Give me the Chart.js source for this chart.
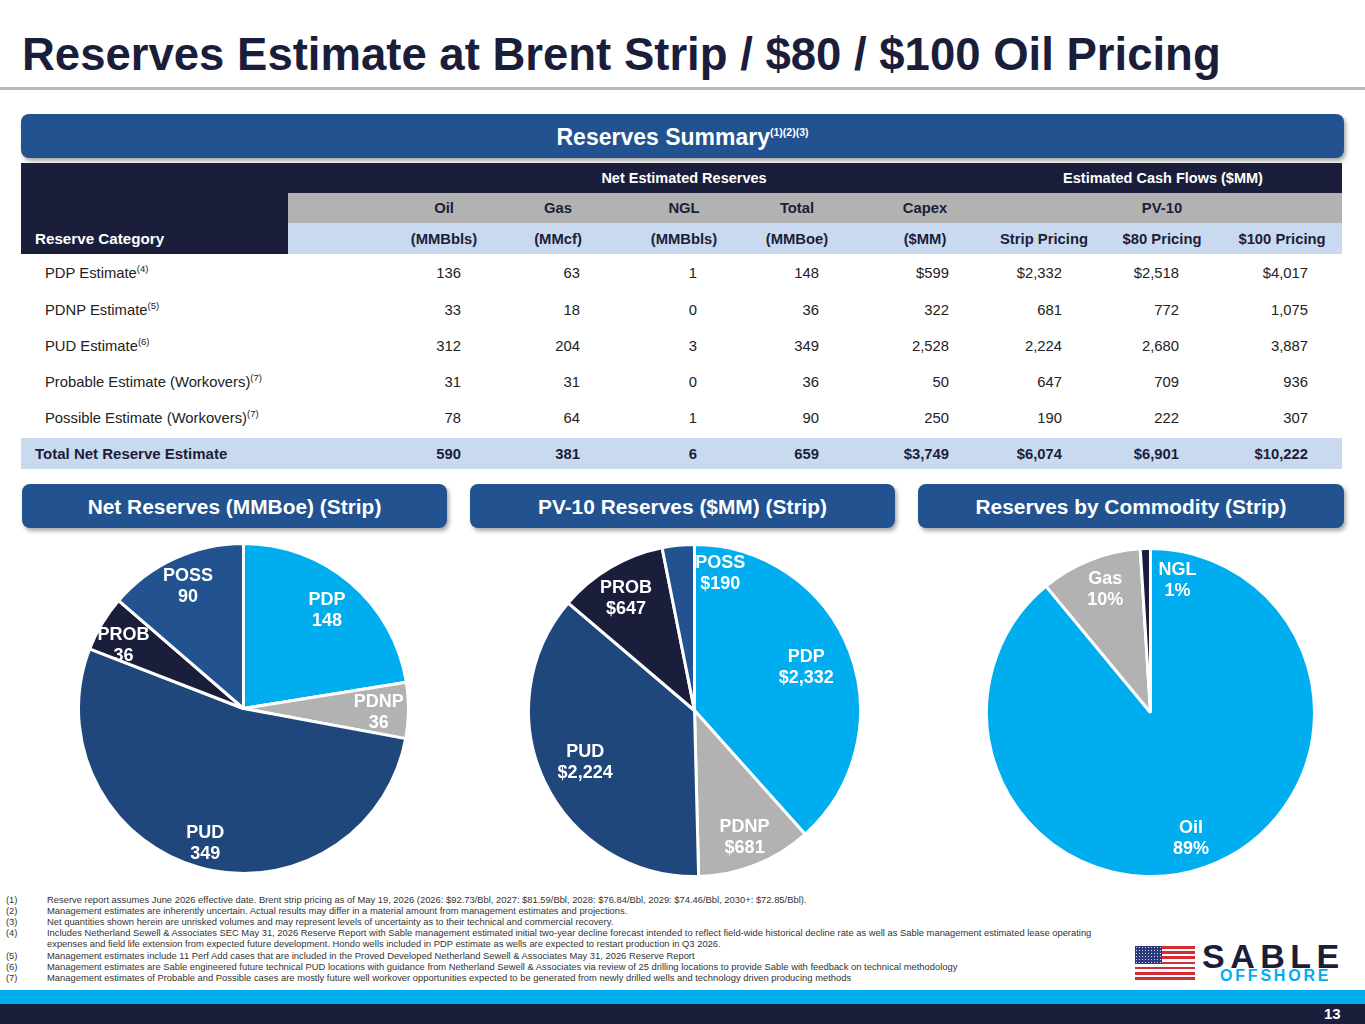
<!DOCTYPE html>
<html>
<head>
<meta charset="utf-8">
<script src="https://cdn.jsdelivr.net/npm/chart.js@4.4.0/dist/chart.umd.min.js"></script>
<style>
  html,body{margin:0;padding:0;background:#fff;}
  body{width:1365px;height:1024px;position:relative;overflow:hidden;font-family:"Liberation Sans",Arial,sans-serif;}
  .abs{position:absolute;}
  #title{left:22px;top:30px;font-size:45.5px;line-height:50px;font-weight:bold;color:#1b1e3b;white-space:nowrap;}
  #rule{left:0;top:87px;width:1365px;height:3px;background:#b9b9b9;}
  .banner{background:#22528f;border-radius:8px;color:#fff;font-weight:bold;text-align:center;box-shadow:2px 3px 4px rgba(0,0,0,0.35);}
  .banner sup{font-size:10.5px;vertical-align:9px;line-height:0;}
  .cell{position:absolute;white-space:nowrap;font-size:14.8px;line-height:18px;}
  .foot{position:absolute;left:0;font-size:9.4px;line-height:11px;color:#333;white-space:nowrap;}
  .foot span.n{position:absolute;left:6px;}
  .foot span.t{position:absolute;left:47px;}
  canvas{position:absolute;}
</style>
</head>
<body>
<div id="title" class="abs">Reserves Estimate at Brent Strip / $80 / $100 Oil Pricing</div>
<div id="rule" class="abs"></div>

<div class="abs banner" style="left:21px;top:114px;width:1323px;height:44px;line-height:46px;font-size:23px;">Reserves Summary<sup>(1)(2)(3)</sup></div>

<div id="table"></div>

<div class="abs banner" style="left:22px;top:484px;width:425px;height:44px;line-height:46px;font-size:20.9px;">Net Reserves (MMBoe) (Strip)</div>
<div class="abs banner" style="left:470px;top:484px;width:425px;height:44px;line-height:46px;font-size:20.9px;">PV-10 Reserves ($MM) (Strip)</div>
<div class="abs banner" style="left:918px;top:484px;width:426px;height:44px;line-height:46px;font-size:20.9px;">Reserves by Commodity (Strip)</div>

<canvas id="pie1" width="333" height="333" style="left:77px;top:542px;width:333px;height:333px;"></canvas>
<canvas id="pie2" width="335" height="335" style="left:527px;top:543px;width:335px;height:335px;"></canvas>
<canvas id="pie3" width="331" height="331" style="left:985px;top:547px;width:331px;height:331px;"></canvas>

<div id="footnotes"></div>

<!-- logo -->
<div class="abs" style="left:1135px;top:946px;width:60px;height:34px;background:repeating-linear-gradient(to bottom,#d52b32 0,#d52b32 2.6px,#fff 2.6px,#fff 5.2px);"></div>
<div class="abs" style="left:1135px;top:946px;width:27px;height:18px;background:#2a3a7a;background-image:radial-gradient(#cfd6ee 0.7px,transparent 0.9px);background-size:3px 3px;"></div>
<div class="abs" style="left:1202px;top:939px;font-size:34px;line-height:34px;font-weight:900;color:#1b1e3b;letter-spacing:5.5px;">SABLE</div>
<div class="abs" style="left:1220px;top:968px;font-size:16px;line-height:16px;font-weight:bold;color:#00aeef;letter-spacing:2.8px;">OFFSHORE</div>

<div class="abs" style="left:0;top:990px;width:1365px;height:14px;background:#00aeef;"></div>
<div class="abs" style="left:0;top:1004px;width:1365px;height:20px;background:#1b1e3b;"></div>
<div class="abs" style="left:1324px;top:1005px;font-size:15px;line-height:18px;font-weight:bold;color:#fff;">13</div>

<script>
// ---------------- data ----------------
const categories = ['PDP', 'PDNP', 'PUD', 'PROB', 'POSS'];
const netReservesMMBoe = [148, 36, 349, 36, 90];
const pv10StripMM = [2332, 681, 2224, 647, 190];
const commodities = ['Oil', 'Gas', 'NGL'];
const commoditySharePct = [89, 10, 1];

const tableRowLabels = ['PDP Estimate', 'PDNP Estimate', 'PUD Estimate', 'Probable Estimate (Workovers)', 'Possible Estimate (Workovers)'];
const tableRowNotes = ['(4)', '(5)', '(6)', '(7)', '(7)'];
const oilMMBbls = [136, 33, 312, 31, 78];
const gasMMcf = [63, 18, 204, 31, 64];
const nglMMBbls = [1, 0, 3, 0, 1];
const totalMMBoe = [148, 36, 349, 36, 90];
const capexMM = [599, 322, 2528, 50, 250];
const pv10Strip = [2332, 681, 2224, 647, 190];
const pv10At80 = [2518, 772, 2680, 709, 222];
const pv10At100 = [4017, 1075, 3887, 936, 307];
const tableTotals = [590, 381, 6, 659, 3749, 6074, 6901, 10222];
const totalLabel = 'Total Net Reserve Estimate';
const groupHeads = ['Net Estimated Reserves', 'Estimated Cash Flows ($MM)'];
const colHeads = ['Oil', 'Gas', 'NGL', 'Total', 'Capex'];
const pvHead = 'PV-10';
const colUnits = ['(MMBbls)', '(MMcf)', '(MMBbls)', '(MMBoe)', '($MM)', 'Strip Pricing', '$80 Pricing', '$100 Pricing'];
const dollarCols = [false, false, false, false, true, true, true, true];

const footnotes = [
  ['(1)', 'Reserve report assumes June 2026 effective date. Brent strip pricing as of May 19, 2026 (2026: $92.73/Bbl, 2027: $81.59/Bbl, 2028: $76.84/Bbl, 2029: $74.46/Bbl, 2030+: $72.85/Bbl).'],
  ['(2)', 'Management estimates are inherently uncertain. Actual results may differ in a material amount from management estimates and projections.'],
  ['(3)', 'Net quantities shown herein are unrisked volumes and may represent levels of uncertainty as to their technical and commercial recovery.'],
  ['(4)', 'Includes Netherland Sewell & Associates SEC May 31, 2026 Reserve Report with Sable management estimated initial two-year decline forecast intended to reflect field-wide historical decline rate as well as Sable management estimated lease operating'],
  ['', 'expenses and field life extension from expected future development. Hondo wells included in PDP estimate as wells are expected to restart production in Q3 2026.'],
  ['(5)', 'Management estimates include 11 Perf Add cases that are included in the Proved Developed Netherland Sewell & Associates May 31, 2026 Reserve Report'],
  ['(6)', 'Management estimates are Sable engineered future technical PUD locations with guidance from Netherland Sewell & Associates via review of 25 drilling locations to provide Sable with feedback on technical methodology'],
  ['(7)', 'Management estimates of Probable and Possible cases are mostly future well workover opportunities expected to be generated from newly drilled wells and technology driven producing methods']
];

// ---------------- table layout ----------------
const NAVY = '#1b1e3b', LIGHT = '#c9daf0', GRAY = '#b2b2b2', TXT = '#222';
const colCenters = [444, 558, 684, 797, 925, 1044, 1162, 1282];
const colRights = [461, 580, 697, 819, 949, 1062, 1179, 1308];
const tbl = document.getElementById('table');
function box(l, t, w, h, bg) {
  const d = document.createElement('div');
  d.className = 'abs';
  d.style.cssText = `left:${l}px;top:${t}px;width:${w}px;height:${h}px;background:${bg};`;
  tbl.appendChild(d);
}
function txt(s, x, yc, align, opts) {
  const d = document.createElement('div');
  d.className = 'cell';
  d.innerHTML = s;
  let css = `top:${yc - 9}px;color:${opts.color || TXT};font-weight:${opts.bold ? 'bold' : 'normal'};`;
  if (opts.size) css += `font-size:${opts.size}px;`;
  if (align === 'center') css += `left:${x - 200}px;width:400px;text-align:center;`;
  else if (align === 'right') css += `left:${x - 400}px;width:400px;text-align:right;`;
  else css += `left:${x}px;`;
  d.style.cssText = css;
  tbl.appendChild(d);
}
box(21, 163, 1321, 30, NAVY);
box(21, 193, 267, 61, NAVY);
box(288, 193, 1054, 30, GRAY);
box(288, 223, 1054, 31, LIGHT);
box(21, 438, 1321, 31, LIGHT);

txt(groupHeads[0], 684, 178, 'center', {bold: true, color: '#fff', size: 14.5});
txt(groupHeads[1], 1163, 178, 'center', {bold: true, color: '#fff', size: 14.5});
colHeads.forEach((h, i) => txt(h, colCenters[i], 208, 'center', {bold: true, color: NAVY, size: 14.8}));
txt(pvHead, colCenters[6], 208, 'center', {bold: true, color: NAVY, size: 14.8});
colUnits.forEach((h, i) => txt(h, colCenters[i], 239, 'center', {bold: true, color: NAVY, size: 14.8}));
txt('Reserve Category', 35, 239, 'left', {bold: true, color: '#fff', size: 15.2});

const fmt = (v, dollar) => (dollar ? '$' : '') + v.toLocaleString('en-US');
const rowCentersY = [273, 310, 346, 382, 418];
const cols = [oilMMBbls, gasMMcf, nglMMBbls, totalMMBoe, capexMM, pv10Strip, pv10At80, pv10At100];
tableRowLabels.forEach((lab, r) => {
  txt(lab + '<sup style="font-size:9.5px;vertical-align:6px;line-height:0;">' + tableRowNotes[r] + '</sup>', 45, rowCentersY[r], 'left', {});
  cols.forEach((c, ci) => txt(fmt(c[r], r === 0 && dollarCols[ci]), colRights[ci], rowCentersY[r], 'right', {}));
});
txt(totalLabel, 35, 454, 'left', {bold: true, color: NAVY, size: 15});
tableTotals.forEach((v, ci) => txt(fmt(v, dollarCols[ci]), colRights[ci], 454, 'right', {bold: true, color: NAVY}));

// ---------------- footnotes ----------------
const fn = document.getElementById('footnotes');
footnotes.forEach((f, i) => {
  const d = document.createElement('div');
  d.className = 'foot';
  d.style.top = (894 + i * 11.1) + 'px';
  d.innerHTML = `<span class="n">${f[0]}</span><span class="t">${f[1].replace(/&/g, '&amp;')}</span>`;
  fn.appendChild(d);
});

// ---------------- pies ----------------
const sliceLabels = {
  id: 'sliceLabels',
  afterDatasetsDraw(chart, args, opts) {
    const ctx = chart.ctx;
    const meta = chart.getDatasetMeta(0);
    const ds = chart.data.datasets[0];
    meta.data.forEach((arc, i) => {
      const p = arc.getProps(['startAngle', 'endAngle', 'outerRadius', 'x', 'y'], true);
      const a = (p.startAngle + p.endAngle) / 2 + (opts.shift[i] || 0) * Math.PI / 180;
      const r = p.outerRadius * opts.radius[i];
      const cx = p.x + Math.cos(a) * r, cy = p.y + Math.sin(a) * r;
      ctx.save();
      ctx.font = 'bold 18px "Liberation Sans", Arial, sans-serif';
      ctx.fillStyle = '#ffffff';
      ctx.textAlign = 'center';
      ctx.textBaseline = 'middle';
      ctx.fillText(chart.data.labels[i], cx, cy - 10.5);
      ctx.fillText(opts.format(ds.data[i]), cx, cy + 10.5);
      ctx.restore();
    });
  }
};

function makePie(id, labels, data, colors, labelOpts) {
  return new Chart(document.getElementById(id), {
    type: 'pie',
    data: {labels: labels, datasets: [{data: data, backgroundColor: colors, borderColor: '#ffffff', borderWidth: 3}]},
    options: {
      responsive: false, animation: false, devicePixelRatio: 1,
      layout: {padding: 0},
      plugins: {legend: {display: false}, tooltip: {enabled: false}, sliceLabels: labelOpts}
    },
    plugins: [sliceLabels]
  });
}
const C_PDP = '#00aeef', C_PDNP = '#b2b2b2', C_PUD = '#1f477b', C_PROB = '#1b1e3b', C_POSS = '#22528f';
makePie('pie1', categories, netReservesMMBoe, [C_PDP, C_PDNP, C_PUD, C_PROB, C_POSS],
  {radius: [0.78, 0.82, 0.85, 0.82, 0.81], shift: [0, 1, 0, -3.5, 0], format: v => String(v)});
makePie('pie2', categories, pv10StripMM, [C_PDP, C_PDNP, C_PUD, C_PROB, C_POSS],
  {radius: [0.72, 0.82, 0.73, 0.79, 0.84], shift: [0, 0, 0, -1, 16.3], format: v => '$' + v.toLocaleString('en-US')});
makePie('pie3', commodities, commoditySharePct, [C_PDP, C_PDNP, C_PROB],
  {radius: [0.81, 0.8, 0.82], shift: [2, 1.4, 13.4], format: v => v + '%'});
</script>
</body>
</html>
